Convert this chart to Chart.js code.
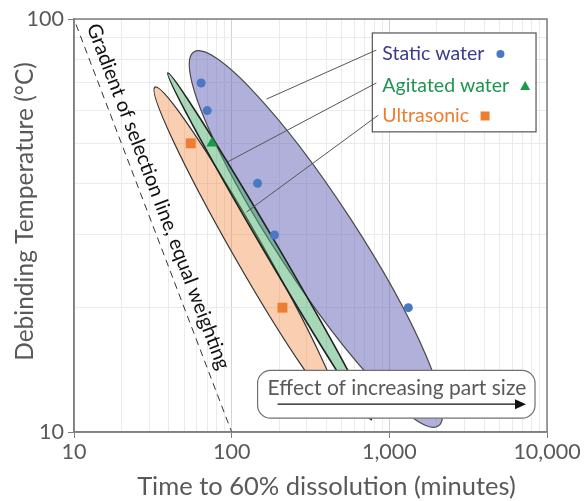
<!DOCTYPE html>
<html>
<head>
<meta charset="utf-8">
<script src="https://cdn.jsdelivr.net/npm/chart.js@4.4.1/dist/chart.umd.min.js"></script>
<style>
  html, body { margin: 0; padding: 0; background: #fff; }
  #wrap { width: 587px; height: 501px; }
</style>
</head>
<body>
<div id="wrap"><canvas id="chart" width="587" height="501"></canvas></div>
<script>
// Data (log-log axes)
const seriesNames = ["Static water", "Agitated water", "Ultrasonic"];
const staticTime = [64, 70, 146, 187, 1320];
const staticTemp = [70, 60, 40, 30, 20];
const agitatedTime = [75];
const agitatedTemp = [50];
const ultrasonicTime = [55, 210];
const ultrasonicTemp = [50, 20];

// selection line, gradient -1 (equal weighting)
const selectionTime = [10.3, 100];
const selectionTemp = [97, 10];

const xTickValues = [10, 100, 1000, 10000];
const xTickLabels = ["10", "100", "1,000", "10,000"];
const yTickValues = [10, 100];
const yTickLabels = ["10", "100"];

// envelope ellipses: major-axis tips in (time, temperature)
const staticTips = [[57.5, 83.2], [2042, 10.34]];
const agitatedTips = [[39.4, 74.0], [769, 10.7]];
const ultrasonicTips = [[32.6, 68.4], [475, 11.4]];

// leader lines from the legend labels to the envelopes
const leaderFrom = [[827, 84.1], [827, 70.0], [851, 58.5]];
const leaderTo = [[166.6, 64.0], [94.4, 45.1], [124.4, 34.1]];

// annotation boxes (corners in data units)
const legendCorners = [[780, 92.5], [8520, 53.3]];
const effectCorners = [[146, 14.1], [8395, 10.8]];

const FONT = "Lato, 'Open Sans', sans-serif";
const GREY = "#595959";
const colours = {
  staticText: "#3b3b8e", agitatedText: "#1e9650", ultraText: "#ed7d31",
  staticPt: "#4a78c2", agitatedPt: "#1a9a48", ultraPt: "#ed7d31"
};

// ellipse half-widths (px) and look
const envelopes = [
  { tips: staticTips, half: 40, fill: "rgba(90,90,180,0.48)", stroke: "#4a4a4a", lw: 1.2 },
  { tips: ultrasonicTips, half: 15, fill: "rgba(242,140,70,0.42)", stroke: "#333", lw: 1.2 },
  { tips: agitatedTips, half: 7, fill: "rgba(60,170,100,0.45)", stroke: "#222", lw: 1.6 }
];

const isDecade = v => Math.abs(Math.log10(v) - Math.round(Math.log10(v))) < 1e-9;
const isWhole = v => {
  const m = v / Math.pow(10, Math.floor(Math.log10(v) + 1e-9));
  return Math.abs(m - Math.round(m)) < 1e-6;
};
const labelFor = (vals, labels) => v => {
  const i = vals.findIndex(t => Math.abs(t - v) < 1e-6);
  return i >= 0 ? labels[i] : "";
};

function px(chart, pt) {
  return { x: chart.scales.x.getPixelForValue(pt[0]), y: chart.scales.y.getPixelForValue(pt[1]) };
}

function drawEllipse(chart, env) {
  const ctx = chart.ctx;
  const a = px(chart, env.tips[0]), b = px(chart, env.tips[1]);
  ctx.beginPath();
  ctx.ellipse((a.x + b.x) / 2, (a.y + b.y) / 2, Math.hypot(b.x - a.x, b.y - a.y) / 2, env.half,
    Math.atan2(b.y - a.y, b.x - a.x), 0, Math.PI * 2);
  ctx.fillStyle = env.fill;
  ctx.fill();
  ctx.strokeStyle = env.stroke;
  ctx.lineWidth = env.lw;
  ctx.stroke();
}

const overlay = {
  id: "overlay",
  beforeDatasetsDraw(chart) {
    const { ctx, chartArea: area } = chart;
    ctx.save();
    ctx.beginPath();
    ctx.rect(area.left, area.top, area.width, area.height);
    ctx.clip();
    envelopes.forEach(e => drawEllipse(chart, e));
    ctx.restore();
  },
  afterDatasetsDraw(chart) {
    const { ctx, chartArea: area } = chart;
    ctx.save();

    // plot frame
    ctx.strokeStyle = "#808080";
    ctx.lineWidth = 1.5;
    ctx.strokeRect(area.left, area.top, area.width, area.height);

    // note along the selection line
    const p0 = px(chart, [selectionTime[0], selectionTemp[0]]);
    const p1 = px(chart, [selectionTime[1], selectionTemp[1]]);
    ctx.save();
    ctx.translate(p0.x, p0.y);
    ctx.rotate(Math.atan2(p1.y - p0.y, p1.x - p0.x));
    ctx.fillStyle = "#111";
    ctx.font = "20px " + FONT;
    ctx.textBaseline = "alphabetic";
    ctx.fillText("Gradient of selection line, equal weighting", 6, -9);
    ctx.restore();

    // legend box
    const l0 = px(chart, legendCorners[0]), l1 = px(chart, legendCorners[1]);
    ctx.fillStyle = "#fff";
    ctx.fillRect(l0.x, l0.y, l1.x - l0.x, l1.y - l0.y);
    ctx.strokeStyle = "#555";
    ctx.lineWidth = 1.2;
    ctx.strokeRect(l0.x, l0.y, l1.x - l0.x, l1.y - l0.y);

    // leader lines
    ctx.strokeStyle = "#555";
    ctx.lineWidth = 1;
    leaderFrom.forEach((f, i) => {
      const s = px(chart, f), e = px(chart, leaderTo[i]);
      ctx.beginPath();
      ctx.moveTo(s.x, s.y);
      ctx.lineTo(e.x, e.y);
      ctx.stroke();
    });

    // legend labels with markers
    ctx.font = "19.5px " + FONT;
    const textCols = [colours.staticText, colours.agitatedText, colours.ultraText];
    const baselines = [27, 59, 89];
    seriesNames.forEach((name, i) => {
      const tx = l0.x + 10, ty = l0.y + baselines[i];
      ctx.fillStyle = textCols[i];
      ctx.fillText(name, tx, ty);
      const mx = tx + ctx.measureText(name).width + 16, my = ty - 6;
      ctx.beginPath();
      if (i === 0) {
        ctx.fillStyle = colours.staticPt;
        ctx.arc(mx, my, 4, 0, Math.PI * 2);
      } else if (i === 1) {
        ctx.fillStyle = colours.agitatedPt;
        ctx.moveTo(mx, my - 5); ctx.lineTo(mx + 5, my + 4); ctx.lineTo(mx - 5, my + 4); ctx.closePath();
      } else {
        ctx.fillStyle = colours.ultraPt;
        ctx.rect(mx - 4.5, my - 4.5, 9, 9);
      }
      ctx.fill();
    });

    // effect-of-part-size box
    const e0 = px(chart, effectCorners[0]), e1 = px(chart, effectCorners[1]);
    ctx.beginPath();
    ctx.roundRect(e0.x, e0.y, e1.x - e0.x, e1.y - e0.y, 13);
    ctx.fillStyle = "#fff";
    ctx.fill();
    ctx.strokeStyle = "#707070";
    ctx.lineWidth = 1.2;
    ctx.stroke();
    ctx.fillStyle = GREY;
    ctx.font = "21px " + FONT;
    ctx.fillText("Effect of increasing part size", e0.x + 10, e0.y + 25);
    const ay = e1.y - 14, ax0 = e0.x + 20, ax1 = e1.x - 9;
    ctx.strokeStyle = "#111";
    ctx.lineWidth = 1.3;
    ctx.beginPath();
    ctx.moveTo(ax0, ay);
    ctx.lineTo(ax1 - 8, ay);
    ctx.stroke();
    ctx.fillStyle = "#111";
    ctx.beginPath();
    ctx.moveTo(ax1, ay); ctx.lineTo(ax1 - 11, ay - 5); ctx.lineTo(ax1 - 11, ay + 5); ctx.closePath();
    ctx.fill();

    // axis titles
    ctx.fillStyle = GREY;
    ctx.font = "25.5px " + FONT;
    ctx.textAlign = "center";
    ctx.fillText("Time to 60% dissolution (minutes)", area.left + area.width / 2 + 16, 495);
    ctx.font = "24.5px " + FONT;
    ctx.save();
    ctx.translate(33, area.top + area.height / 2 - 14);
    ctx.rotate(-Math.PI / 2);
    ctx.fillText("Debinding Temperature (°C)", 0, 0);
    ctx.restore();

    ctx.restore();
  }
};

const toPoints = (xs, ys) => xs.map((v, i) => ({ x: v, y: ys[i] }));

new Chart(document.getElementById("chart"), {
  type: "scatter",
  data: {
    datasets: [
      {
        label: "Selection line",
        data: toPoints(selectionTime, selectionTemp),
        showLine: true, borderColor: "#333", borderWidth: 1, borderDash: [7, 5],
        pointRadius: 0
      },
      {
        label: seriesNames[0], data: toPoints(staticTime, staticTemp),
        pointStyle: "circle", pointRadius: 4.5, backgroundColor: colours.staticPt, borderWidth: 0
      },
      {
        label: seriesNames[1], data: toPoints(agitatedTime, agitatedTemp),
        pointStyle: "triangle", pointRadius: 6.5, backgroundColor: colours.agitatedPt, borderWidth: 0
      },
      {
        label: seriesNames[2], data: toPoints(ultrasonicTime, ultrasonicTemp),
        pointStyle: "rect", pointRadius: 7, backgroundColor: colours.ultraPt, borderWidth: 0
      }
    ]
  },
  options: {
    responsive: false,
    devicePixelRatio: 1,
    animation: false,
    layout: { padding: { top: 19, right: 40, left: 0, bottom: 0 } },
    plugins: { legend: { display: false }, tooltip: { enabled: false } },
    scales: {
      x: {
        type: "logarithmic", min: 10, max: 10000,
        afterBuildTicks: s => { s.ticks = s.ticks.filter(t => isWhole(t.value)); },
        afterFit: s => { s.height = 69; },
        border: { color: "#808080", width: 1.5 },
        grid: {
          color: c => (c.tick && isDecade(c.tick.value)) ? "#d2d2d2" : "#ebebeb",
          tickColor: c => (c.tick && isDecade(c.tick.value)) ? "#808080" : "rgba(0,0,0,0)",
          tickLength: 6
        },
        ticks: {
          autoSkip: false, maxRotation: 0, padding: 1, color: GREY,
          font: { family: FONT, size: 21.5 },
          callback: labelFor(xTickValues, xTickLabels)
        }
      },
      y: {
        type: "logarithmic", min: 10, max: 100,
        afterBuildTicks: s => { s.ticks = s.ticks.filter(t => isWhole(t.value)); },
        afterFit: s => { s.width = 74; },
        border: { color: "#808080", width: 1.5 },
        grid: {
          color: c => (c.tick && isDecade(c.tick.value)) ? "#d2d2d2" : "#ebebeb",
          tickColor: c => (c.tick && isDecade(c.tick.value)) ? "#808080" : "rgba(0,0,0,0)",
          tickLength: 6
        },
        ticks: {
          autoSkip: false, padding: 4, color: GREY,
          font: { family: FONT, size: 21.5 },
          callback: labelFor(yTickValues, yTickLabels)
        }
      }
    }
  },
  plugins: [overlay]
});
</script>
</body>
</html>
